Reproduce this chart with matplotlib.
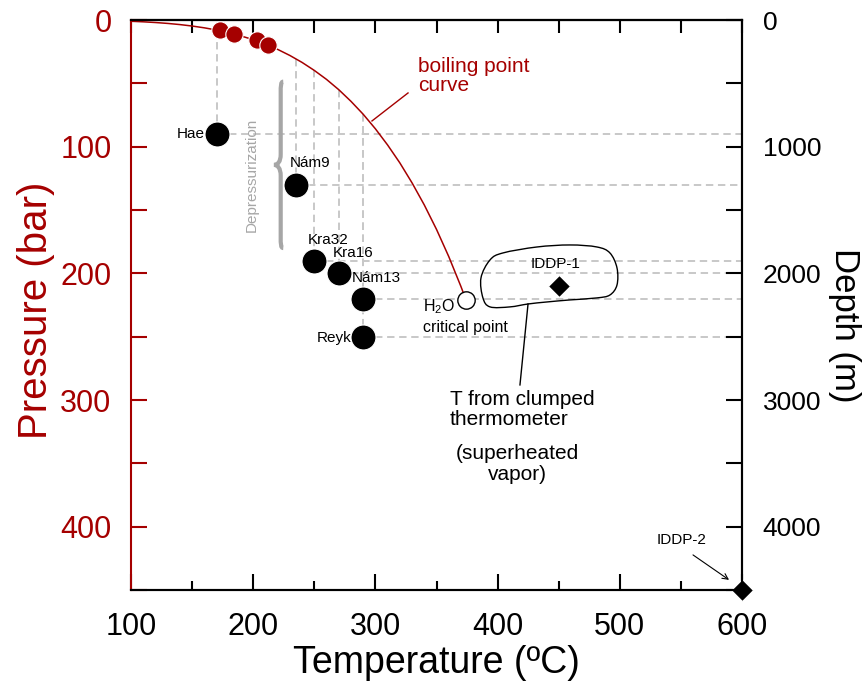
import matplotlib
matplotlib.use('Agg')
import matplotlib.pyplot as plt
import numpy as np
from matplotlib.path import Path
from matplotlib.patches import PathPatch

plt.rcParams['font.family'] = ['Liberation Sans', 'DejaVu Sans']
plt.rcParams['mathtext.fontset'] = 'custom'
plt.rcParams['mathtext.rm'] = 'Liberation Sans'

RED = '#a50000'
GUIDE = '#c8c8c8'

# boiling point curve of water (T in C, P in bar)
boil_t = [100, 110, 120, 130, 140, 150, 160, 170, 180, 190, 200, 210, 220, 230, 240,
          250, 260, 270, 280, 290, 300, 310, 320, 330, 340, 350, 360, 370, 374]
boil_p = [1.01, 1.43, 1.99, 2.70, 3.61, 4.76, 6.18, 7.92, 10.0, 12.6, 15.5, 19.1, 23.2,
          28.0, 33.5, 39.8, 46.9, 55.0, 64.2, 74.4, 85.9, 98.7, 112.8, 128.6, 146.0,
          165.3, 186.7, 210.4, 220.6]

# surface samples (red)
surf_t = [173, 184, 203, 212]
surf_p = [8, 11, 16, 20]

# wells
well_names = ['Hae', 'Nám9', 'Kra32', 'Kra16', 'Nám13', 'Reyk']
well_t = [170, 235, 250, 270, 290, 290]
well_p = [90, 130, 190, 200, 220, 250]

crit_t, crit_p = 374, 221

iddp_names = ['IDDP-1', 'IDDP-2']
iddp_t = [450, 600]
iddp_p = [210, 450]

fig = plt.figure(figsize=(8.66, 6.98), dpi=100)
ax = fig.add_axes([131/866, 1-590/698, 611/866, 570/698])

dash = (0, (3.8, 2.4))
for t, p in zip(well_t, well_p):
    top = np.interp(t, boil_t, boil_p)
    ax.plot([t, t], [top, p], color=GUIDE, lw=1.4, ls=dash, zorder=1)
    ax.plot([t, 600], [p, p], color=GUIDE, lw=1.4, ls=dash, zorder=1)

ax.plot(boil_t, boil_p, color=RED, lw=1.1, zorder=2)
ax.plot(surf_t, surf_p, 'o', ms=12.5, color=RED, mec='white', mew=0.8, zorder=4)
ax.plot(well_t, well_p, 'o', ms=18, color='black', mec='white', mew=0.8, zorder=4)
ax.plot([crit_t], [crit_p], 'o', ms=12.5, mfc='white', mec='black', mew=1, zorder=4)
ax.plot(iddp_t, iddp_p, 'D', ms=11.5, color='black', mec='white', mew=0.8,
        zorder=6, clip_on=False)

# point labels (offsets in pixels)
offs = {'Hae': (-12, 0, 'right'), 'Nám9': (-6, 22, 'left'), 'Kra32': (-7, 21, 'left'),
        'Kra16': (-6, 20, 'left'), 'Nám13': (-11, 21, 'left'), 'Reyk': (-12, -1, 'right')}
for name, t, p in zip(well_names, well_t, well_p):
    dx, dy, ha = offs[name]
    ax.annotate(name, (t, p), xytext=(dx, dy), textcoords='offset pixels',
                ha=ha, va='center', fontsize=11, zorder=5)
ax.annotate(iddp_names[0], (iddp_t[0], iddp_p[0]), xytext=(-3, 22),
            textcoords='offset pixels', ha='center', va='center', fontsize=11)
ax.text(550.9, 410.6, iddp_names[1], ha='center', va='center', fontsize=11)
ax.annotate('', xy=(589.4, 442), xytext=(559.9, 422.3),
            arrowprops=dict(arrowstyle='->', lw=0.8, color='black',
                            shrinkA=0, shrinkB=0))

ax.text(339, 226.5, r'$\mathregular{H_2O}$', ha='left', va='center', fontsize=11.5)
ax.text(339, 243, 'critical point', ha='left', va='center', fontsize=11.5)

# boiling point curve label
ax.text(335, 29, 'boiling point\ncurve', color=RED, fontsize=15, ha='left', va='top',
        linespacing=1.0)
ax.plot([326.7, 297.2], [57.6, 79.7], color=RED, lw=1)

# depressurization brace
M, C, L = Path.MOVETO, Path.CURVE4, Path.LINETO
brace = [(224.6, 48.7), (222.5, 48.7), (222.5, 52), (222.5, 58),
         (222.5, 106),
         (222.5, 112), (220, 114.4), (217, 114.4),
         (220, 114.4), (222.5, 117), (222.5, 123),
         (222.5, 171),
         (222.5, 177), (222.5, 180), (224.6, 180)]
codes = [M, C, C, C, L, C, C, C, C, C, C, L, C, C, C]
ax.add_patch(PathPatch(Path(brace, codes), fill=False, lw=3, color='#a6a6a6', zorder=3))
ax.text(199, 122, 'Depressurization', rotation=90, color='#a6a6a6', fontsize=11,
        ha='center', va='center')

# outline around IDDP-1 (closed smooth curve through these points)
blob = np.array([(386.4, 203.6), (393.8, 189.4), (404.4, 183.9), (432.2, 179.2),
                 (459.2, 177.6), (481.3, 179.2), (491.9, 183.9), (497.7, 195.7),
                 (497.7, 209.2), (491.9, 217.1), (481.3, 219.4), (459.2, 221.0),
                 (440.4, 222.6), (424.9, 224.2), (410.1, 226.5), (393.8, 226.5),
                 (388.0, 219.4)])
n = len(blob)
verts = [blob[0]]
bcodes = [Path.MOVETO]
for i in range(n):
    p0, p1, p2, p3 = blob[i - 1], blob[i], blob[(i + 1) % n], blob[(i + 2) % n]
    verts += [p1 + (p2 - p0) / 6, p2 - (p3 - p1) / 6, p2]
    bcodes += [Path.CURVE4] * 3
ax.add_patch(PathPatch(Path(verts, bcodes), fill=False, lw=1, color='black', zorder=3))
ax.plot([424.9, 418.3], [224.2, 288.1], color='black', lw=1)

ax.text(361, 292, 'T from clumped\nthermometer', ha='left', va='top', fontsize=15,
        linespacing=1.1)
ax.text(415.9, 335, '(superheated\nvapor)', ha='center', va='top', fontsize=15,
        linespacing=1.1)

ax.set_xlim(100, 600)
ax.set_ylim(450, 0)
ax.set_xticks(range(100, 601, 100))
ax.set_xticks(range(150, 600, 100), minor=True)
ax.set_yticks(range(0, 401, 100))
ax.set_yticks(range(50, 451, 100), minor=True)
ax.tick_params(axis='x', which='major', direction='in', length=11.5, width=1.5,
               labelsize=22, pad=16, top=False)
ax.tick_params(axis='x', which='minor', direction='in', length=6.5, width=1.5, top=False)
ax.tick_params(axis='y', which='both', direction='in', length=11.5, width=1.5,
               colors=RED, labelsize=22, pad=14)
for s in ax.spines.values():
    s.set_linewidth(1.5)
ax.spines['left'].set_color(RED)
ax.set_xlabel('Temperature (ºC)', fontsize=27, labelpad=2)
ax.set_ylabel('Pressure (bar)', fontsize=29, color=RED)
ax.yaxis.set_label_coords(-0.125, 1 - (310 - 20) / 570)

sec = ax.secondary_xaxis('top')
sec.set_xticks(range(100, 601, 50))
sec.set_xticklabels([])
sec.tick_params(direction='in', length=9.5, width=1.5)
sec.spines['top'].set_linewidth(1.5)

ax2 = ax.twinx()
ax2.set_ylim(4500, 0)
ax2.set_yticks(range(0, 4001, 1000))
ax2.set_yticks(range(500, 4501, 1000), minor=True)
ax2.tick_params(axis='y', which='both', direction='in', length=11.5, width=1.5,
                labelsize=19, pad=15)
for s in ax2.spines.values():
    s.set_linewidth(1.5)
ax2.spines['left'].set_visible(False)
ax2.set_ylabel('Depth (m)', fontsize=25, rotation=270, va='bottom')
ax2.yaxis.set_label_coords(1.140, 1 - (325 - 20) / 570)

fig.savefig('out.png', dpi=100)
